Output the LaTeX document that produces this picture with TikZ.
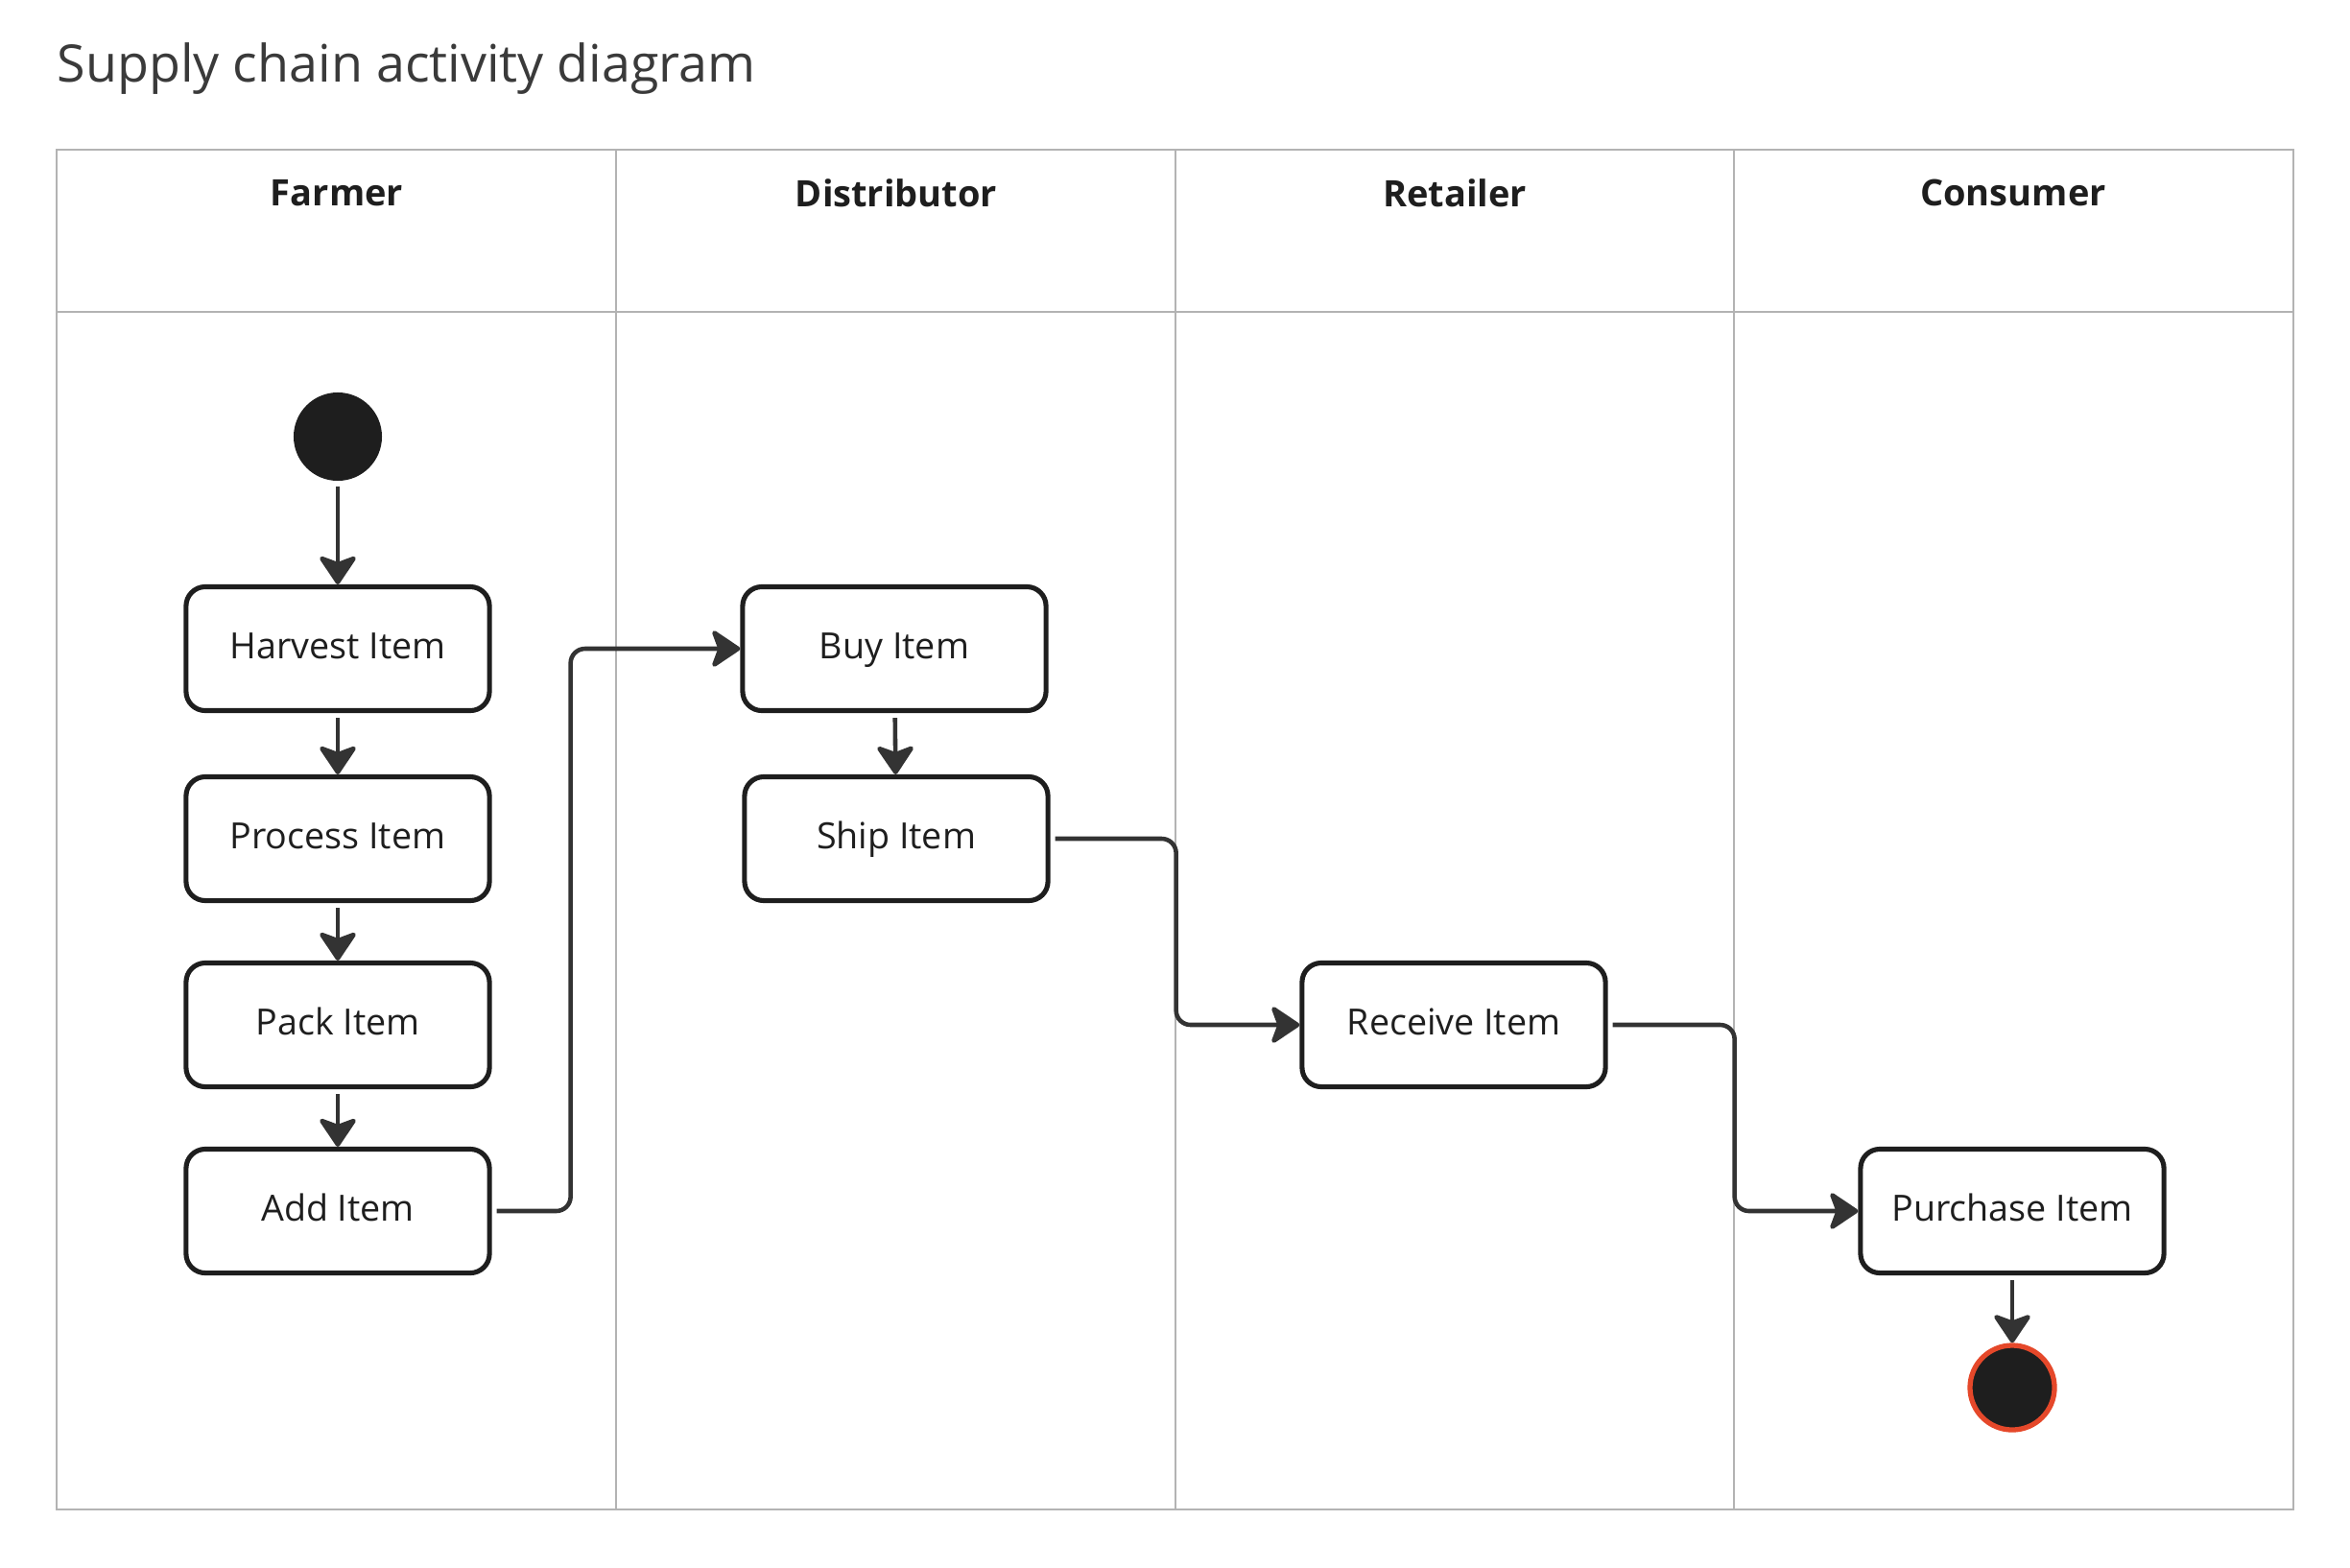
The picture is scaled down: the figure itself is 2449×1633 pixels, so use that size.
\documentclass[tikz,border=0pt]{standalone}
\usepackage{fontspec}
\setmainfont{Open Sans}
\usetikzlibrary{positioning,arrows.meta}
\definecolor{ink}{HTML}{1E1E1E}
\definecolor{wire}{HTML}{333333}
\definecolor{lanegray}{HTML}{B3B3B3}
\definecolor{titlegray}{HTML}{3A3A3A}
\definecolor{endred}{HTML}{E5482A}
\tikzset{
    activity/.style={draw=ink, line width=1.45pt, rounded corners=0.2cm, fill=white, text=ink,
        minimum width=3.16cm, minimum height=1.29cm, inner sep=0pt,
        text height=8pt, text depth=2pt,
        font=\fontsize{10.7}{12}\selectfont},
    lane/.style={draw=lanegray, line width=0.75pt},
    lanehead/.style={font=\fontsize{10.8}{12}\selectfont\bfseries, text=ink},
    flow/.style={draw=wire, line width=1.3pt, rounded corners=0.15cm,
        -{Stealth[length=0.33cm, width=0.44cm, inset=0.08cm, round]}, shorten <=0.05cm},
}

\begin{document}
\begin{tikzpicture}[x=0.01cm, y=-0.01cm]
\useasboundingbox (0,0) rectangle (2449,1633);

% swimlanes
\node[anchor=base west, inner sep=0pt, text=titlegray, font=\fontsize{15.3}{18}\selectfont]
    (title) at (59,85) {Supply chain activity diagram};
\draw[lane] (59,156) rectangle (2390,1573);
\draw[lane] (59,325) -- (2390,325);
\foreach \x in {642,1225,1807}
    \draw[lane] (\x,156) -- (\x,1573);
\foreach \x/\name in {351/Farmer, 934/Distributor, 1516/Retailer, 2098/Consumer}
    \node[lanehead] (head-\name) at (\x,201) {\name};

% activities
\node[circle, fill=ink, minimum size=0.92cm, inner sep=0pt] (start) at (352,455) {};
\node[activity] (harvest) at (352,676)  {Harvest Item};
\node[activity] (process) at (352,874)  {Process Item};
\node[activity] (pack)    at (352,1068) {Pack Item};
\node[activity] (add)     at (352,1262) {Add Item};
\node[activity] (buy)     at (932,676)  {Buy Item};
\node[activity] (ship)    at (934,874)  {Ship Item};
\node[activity] (receive) at (1515,1068) {Receive Item};
\node[activity] (purchase) at (2097,1262) {Purchase Item};
\node[circle, fill=ink, draw=endred, line width=1.5pt, minimum size=0.88cm, inner sep=0pt]
    (stop) at (2097,1446) {};

% flows
\draw[flow] (start) -- (harvest);
\draw[flow] (harvest) -- (process);
\draw[flow] (process) -- (pack);
\draw[flow] (pack) -- (add);
\draw[flow] (add.east) -- ++(82,0) |- (buy.west);
\draw[flow] (buy) -- (ship);
\draw[flow] (ship.east) -- ++(131,0) |- (receive.west);
\draw[flow] (receive.east) -- ++(132,0) |- (purchase.west);
\draw[flow] (purchase) -- (stop);
\end{tikzpicture}
\end{document}
